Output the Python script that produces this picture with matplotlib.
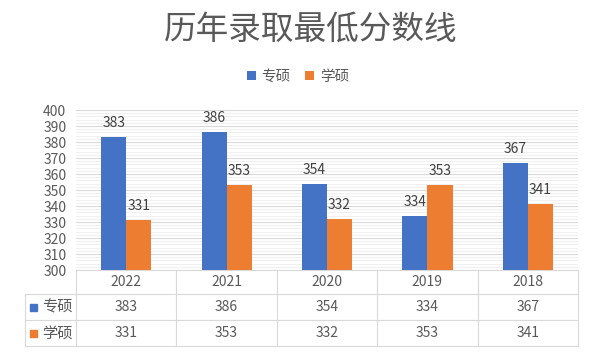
import matplotlib.pyplot as plt
from matplotlib.patches import Rectangle
import numpy as np

plt.rcParams['font.family'] = ['Noto Sans CJK SC', 'DejaVu Sans']

years = ['2022', '2021', '2020', '2019', '2018']
zhuanshuo = [383, 386, 354, 334, 367]
xueshuo = [331, 353, 332, 353, 341]
series_names = ['专硕', '学硕']
colors = ['#4472C4', '#ED7D31']

W, H = 597, 352
fig = plt.figure(figsize=(W / 100, H / 100), dpi=100)
ax_l, ax_r, ax_t, ax_b = 76, 578, 110, 270
ax = fig.add_axes([ax_l / W, (H - ax_b) / H, (ax_r - ax_l) / W, (ax_b - ax_t) / H])

x = np.arange(len(years))
w = 0.25
ax.bar(x - w / 2, zhuanshuo, w, color=colors[0], label=series_names[0], zorder=3)
ax.bar(x + w / 2, xueshuo, w, color=colors[1], label=series_names[1], zorder=3)

for xi, v in zip(x - w / 2, zhuanshuo):
    ax.annotate(str(v), (xi, v), xytext=(0, 5), textcoords='offset points',
                ha='center', va='bottom', fontsize=10, color='#404040')
for xi, v in zip(x + w / 2, xueshuo):
    ax.annotate(str(v), (xi, v), xytext=(0, 5), textcoords='offset points',
                ha='center', va='bottom', fontsize=10, color='#404040')

ax.set_xlim(-0.5, len(years) - 0.5)
ax.set_ylim(300, 400)
ax.set_yticks(np.arange(300, 401, 10))
ax.set_yticks(np.arange(300, 401, 2), minor=True)
ax.grid(axis='y', which='major', color='#d9d9d9', lw=0.8, zorder=0)
ax.grid(axis='y', which='minor', color='#f0f0f0', lw=0.8, zorder=0)
ax.set_xticks([])
ax.tick_params(axis='y', which='both', length=0, labelsize=10, labelcolor='#595959', pad=7)
for s in ['top', 'right', 'left']:
    ax.spines[s].set_visible(False)
ax.spines['bottom'].set_color('#d9d9d9')

# data table under the axes
ah = ax_b - ax_t
aw = ax_r - ax_l
def fy(py):
    return -(py - ax_b) / ah
def fx(px):
    return (px - ax_l) / aw

line_kw = dict(color='#d9d9d9', lw=0.8, transform=ax.transAxes, clip_on=False)
left = 25
ax.plot([fx(left), 1], [fy(294)] * 2, **line_kw)
ax.plot([fx(left), 1], [fy(320)] * 2, **line_kw)
ax.plot([fx(left), 1], [fy(346)] * 2, **line_kw)
ax.plot([fx(left)] * 2, [fy(294), fy(346)], **line_kw)
for i in range(len(years) + 1):
    xx = i / len(years)
    ax.plot([xx, xx], [0, fy(346)], **line_kw)

for i, yr in enumerate(years):
    cx = (i + 0.5) / len(years)
    ax.text(cx, fy(282), yr, transform=ax.transAxes, ha='center', va='center',
            fontsize=10, color='#595959')
    ax.text(cx, fy(307), str(zhuanshuo[i]), transform=ax.transAxes, ha='center',
            va='center', fontsize=10, color='#595959')
    ax.text(cx, fy(333), str(xueshuo[i]), transform=ax.transAxes, ha='center',
            va='center', fontsize=10, color='#595959')

for name, c, py in zip(series_names, colors, [307, 333]):
    fig.patches.append(Rectangle((30 / W, (H - py - 3.5) / H), 7 / W, 7 / H,
                                 color=c, transform=fig.transFigure))
    fig.text(42 / W, (H - py) / H, name, ha='left', va='center', fontsize=11,
             color='#595959')

fig.text(311 / W, (H - 30) / H, '历年录取最低分数线', ha='center', va='center',
         fontsize=23.5, fontweight='light', color='#595959')
fig.legend(loc='center', bbox_to_anchor=(298 / W, (H - 77) / H), ncol=2,
           frameon=False, handlelength=0.6, handleheight=0.6, handletextpad=0.4,
           columnspacing=1.0, fontsize=10.5, labelcolor='#595959')

fig.savefig('out.png', dpi=100)
